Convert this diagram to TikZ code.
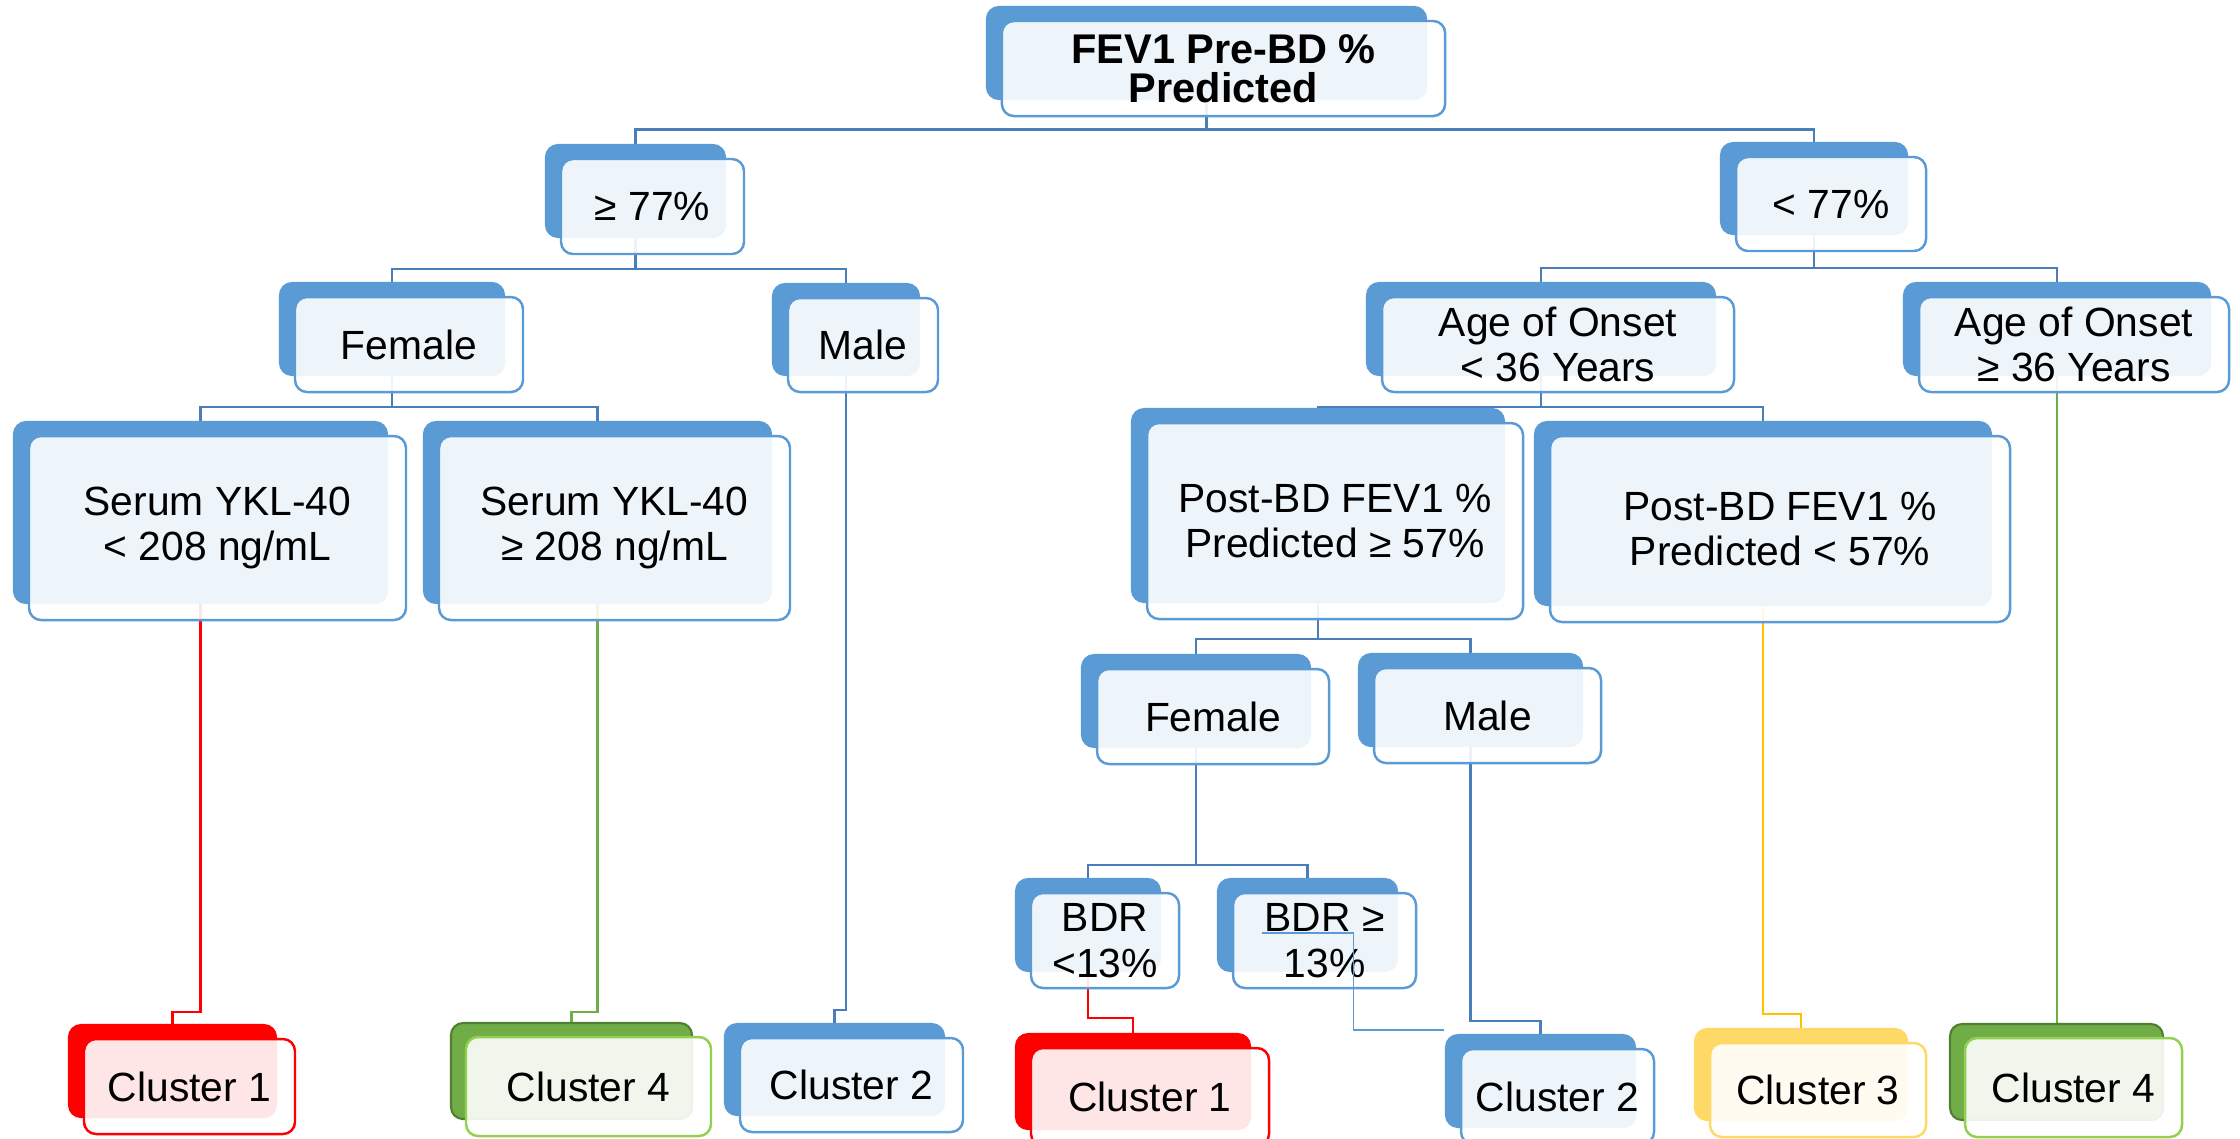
\documentclass[tikz,border=0pt]{standalone}
\usepackage{fontspec}
\setmainfont{Liberation Sans}
\usepackage{tikz}
\usetikzlibrary{calc}
\pgfdeclarelayer{bg}
\pgfsetlayers{bg,main}

\definecolor{bl}{HTML}{5B9BD5}
\definecolor{blline}{HTML}{4A7EBB}
\definecolor{rd}{HTML}{FF0000}
\definecolor{gn}{HTML}{70AD47}
\definecolor{gndark}{HTML}{507E32}
\definecolor{gnlight}{HTML}{92D050}
\definecolor{yl}{HTML}{FFD966}
\definecolor{ylline}{HTML}{FFC000}

\tikzset{
  back/.style={rounded corners=0.12cm, inner sep=0pt, line width=0.6pt},
  front/.style={rounded corners=0.12cm, inner sep=0pt, line width=0.7pt, fill=white,
    fill opacity=0.9, text opacity=1, align=center, font=\fontsize{11.6}{12.9}\selectfont},
  back-bl/.style={fill=bl, draw=bl},   front-bl/.style={draw=bl},
  back-rd/.style={fill=rd, draw=rd},   front-rd/.style={draw=rd},
  back-gn/.style={fill=gn, draw=gndark}, front-gn/.style={draw=gnlight},
  back-yl/.style={fill=yl, draw=yl},   front-yl/.style={draw=yl},
  conn/.style={draw=blline, line width=0.8pt},
  conn-rd/.style={draw=rd, line width=0.8pt},
  conn-gn/.style={draw=gn, line width=0.8pt},
  conn-yl/.style={draw=ylline, line width=0.8pt},
}

\begin{document}
\begin{tikzpicture}[x=0.01cm,y=-0.01cm]
\useasboundingbox (0,0) rectangle (2240,1138);

% root
\node[back, back-bl, minimum width=4.39cm, minimum height=0.92cm] (root) at (1206.5,53) {};
\node[front, front-bl, minimum width=4.43cm, minimum height=0.95cm,
  font=\fontsize{11.8}{11.1}\selectfont\bfseries] (root-f) at ([shift={(17,15.5)}]root.center)
  {FEV1 Pre-BD \%\\Predicted};

% all other boxes: name/x/y/width/height/colour/text
\foreach \n/\x/\y/\w/\h/\c/\t in {
  ge77/635.5/191/179/92/bl/{≥ 77\%},
  lt77/1814/188.5/186/91/bl/{< 77\%},
  fem1/392/329/224/92/bl/{Female},
  male1/846/329.5/146/91/bl/{Male},
  age1/1541/329/348/92/bl/{Age of Onset\\< 36 Years},
  age2/2057/329/306/92/bl/{Age of Onset\\≥ 36 Years},
  ykl1/200.5/512.5/373/181/bl/{Serum YKL-40\\< 208 ng/mL},
  ykl2/597.5/512.5/347/181/bl/{Serum YKL-40\\≥ 208 ng/mL},
  post1/1318/505.5/372/193/bl/{Post-BD FEV1 \%\\Predicted ≥ 57\%},
  post2/1763/513.5/456/183/bl/{Post-BD FEV1 \%\\Predicted < 57\%},
  fem2/1196/701/228/92/bl/{Female},
  male2/1470.5/700/223/92/bl/{Male},
  bdr1/1088/925/144/92/bl/{BDR\\<13\%},
  bdr2/1307.5/925/179/92/bl/{BDR ≥\\13\%},
  cl1a/172.5/1071/207/92/rd/{Cluster 1},
  cl4a/571.5/1071/241/96/gn/{Cluster 4},
  cl2a/834.5/1069.5/219/91/bl/{Cluster 2},
  cl1b/1133/1081.5/234/95/rd/{Cluster 1},
  cl2b/1540.5/1081/189/92/bl/{Cluster 2},
  cl3/1801/1074.5/212/91/yl/{Cluster 3},
  cl4b/2056.5/1072/213/96/gn/{Cluster 4}}
{
  \node[back, back-\c, minimum width={\w*0.01cm}, minimum height={\h*0.01cm}] (\n) at (\x,\y) {};
  \node[front, front-\c, minimum width={(\w+4)*0.01cm}, minimum height={(\h+3)*0.01cm}]
    (\n-f) at ([shift={(17,15.5)}]\n.center) {\t};
}

\begin{pgfonlayer}{bg}
\draw[conn] (root.south) -- ++(0,29) -| (ge77.north);
\draw[conn] (root.south) -- ++(0,29) -| (lt77.north);
\draw[conn] (ge77.south) -- ++(0,31) -| (fem1.north);
\draw[conn] (ge77.south) -- ++(0,31) -| (male1.north);
\draw[conn] (lt77.south) -- ++(0,33) -| (age1.north);
\draw[conn] (lt77.south) -- ++(0,33) -| (age2.north);
\draw[conn] (fem1.south) -- ++(0,31) -| (ykl1.north);
\draw[conn] (fem1.south) -- ++(0,31) -| (ykl2.north);
\draw[conn] (age1.south) -- ++(0,31) -| (post1.north);
\draw[conn] (age1.south) -- ++(0,31) -| (post2.north);
\draw[conn] (post1.south) -- ++(0,36) -| (fem2.north);
\draw[conn] (post1.south) -- ++(0,36) -| (male2.north);
\draw[conn] (fem2.south) -- ++(0,117) -| (bdr1.north);
\draw[conn] (fem2.south) -- ++(0,117) -| (bdr2.north);
% down to the clusters
\draw[conn-rd] (ykl1.south) -- ++(0,408) -| (cl1a.north);
\draw[conn-gn] (ykl2.south) -- ++(0,408) -| (cl4a.north);
\draw[conn] (male1.south) -- ++(0,634) -| (cl2a.north);
\draw[conn-rd] (bdr1.south) -- ++(0,46) -| (cl1b.north);
\draw[conn] (male2.south) -- ++(0,274) -| (cl2b.north);
\draw[conn-yl] (post2.south) -- ++(0,408) -| (cl3.north);
\draw[conn-gn] (age2.south) -- (age2.south |- cl4b.north);
\end{pgfonlayer}

\coordinate (stub) at (1444,1030);
\draw[bl, line width=0.5pt] ([shift={(-46,8)}]bdr2.center) -- ++(92,0) |- (stub);
\end{tikzpicture}
\end{document}
